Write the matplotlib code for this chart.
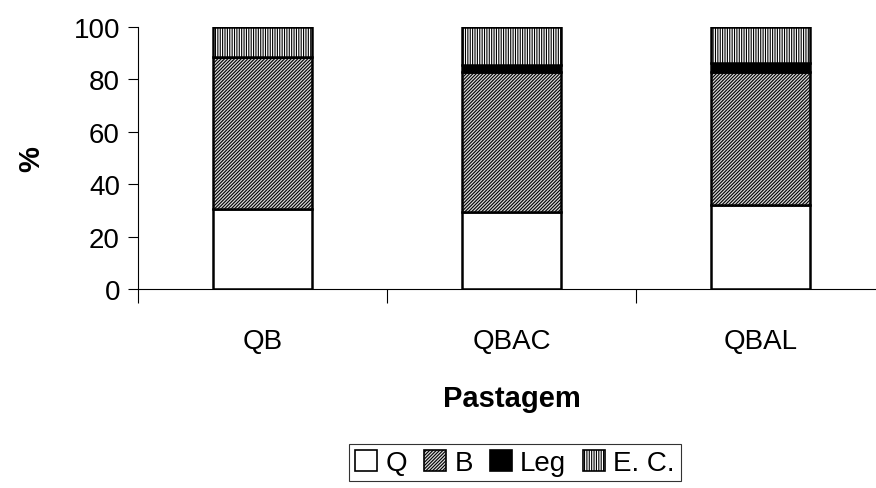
import numpy as np
import matplotlib
matplotlib.use("Agg")
import matplotlib.pyplot as plt
from matplotlib.patches import Patch

plt.rcParams['font.family'] = ['Liberation Sans', 'DejaVu Sans']
plt.rcParams['hatch.linewidth'] = 0.8

# data (% of composition)
pastagens = ['QB', 'QBAC', 'QBAL']
q_vals = [30.5, 29.3, 32.2]
b_vals = [58.0, 53.4, 50.8]
leg_vals = [0.0, 2.8, 3.1]
ec_vals = [11.5, 14.5, 13.9]

series = ['Q', 'B', 'Leg', 'E. C.']
values = [q_vals, b_vals, leg_vals, ec_vals]
styles = [dict(facecolor='white', hatch=None),
          dict(facecolor='#d8d8d8', hatch='//////////'),
          dict(facecolor='black', hatch=None),
          dict(facecolor='white', hatch='|||||||')]

fig = plt.figure(figsize=(8.76, 4.89), dpi=100)
ax = fig.add_axes([138 / 876, 1 - 290 / 489, 747 / 876, 262 / 489])

x = np.arange(len(pastagens))
bottom = np.zeros(len(pastagens))
for name, vals, st in zip(series, values, styles):
    vals = np.array(vals)
    ax.bar(x, vals, 0.4, bottom=bottom, facecolor=st['facecolor'],
           hatch=st['hatch'], edgecolor='black', linewidth=1.8, label=name)
    bottom += vals

ax.set_xlim(-0.5, 2.5)
ax.set_ylim(0, 100)
ax.set_yticks([0, 20, 40, 60, 80, 100])
ax.set_xticks(x)
ax.set_xticklabels(pastagens)
ax.set_xticks([-0.5, 0.5, 1.5, 2.5], minor=True)
ax.tick_params(axis='x', which='major', length=0, pad=28, labelsize=20)
ax.tick_params(axis='x', which='minor', length=10, width=0.8, direction='out')
ax.tick_params(axis='y', length=7, width=0.8, direction='out', pad=6, labelsize=20)
for s in ['top', 'right']:
    ax.spines[s].set_visible(False)
ax.spines['left'].set_linewidth(0.8)
ax.spines['bottom'].set_linewidth(0.8)

ax.set_xlabel('Pastagem', fontsize=21, fontweight='bold', labelpad=22)
ax.set_ylabel('%', fontsize=21, fontweight='bold', labelpad=20)

handles = [Patch(facecolor=st['facecolor'], hatch=st['hatch'], edgecolor='black',
                 linewidth=1.2, label=n) for n, st in zip(series, styles)]
leg = fig.legend(handles=handles, loc='upper center', ncol=4,
                 bbox_to_anchor=(515 / 876, 1 - 445 / 489), fontsize=20,
                 frameon=True, fancybox=False, edgecolor='black',
                 handlelength=0.8, handleheight=0.8, handletextpad=0.3,
                 columnspacing=0.6, borderpad=0.2, borderaxespad=0)
leg.get_frame().set_linewidth(0.8)

fig.savefig('out.png', dpi=100)
